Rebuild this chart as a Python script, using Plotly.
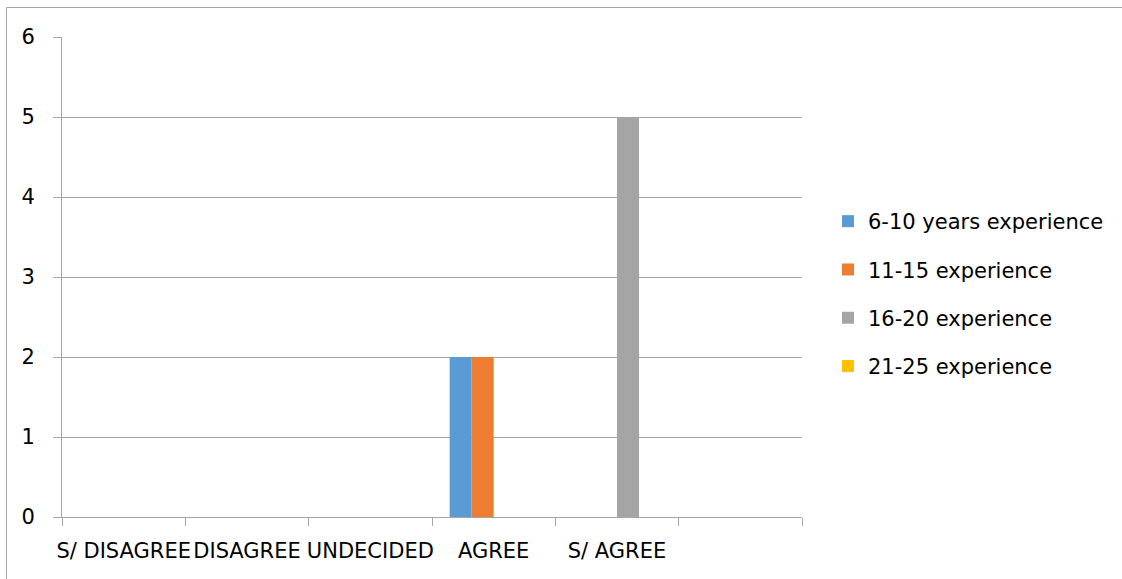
import plotly.graph_objects as go

# Response categories (last slot is an unlabelled spare category)
categories = ["S/ DISAGREE", "DISAGREE", "UNDECIDED", "AGREE", "S/ AGREE", " "]

series_names = [
    "6-10 years experience",
    "11-15 experience",
    "16-20 experience",
    "21-25 experience",
]
exp_6_10 = [0, 0, 0, 2, 0, 0]
exp_11_15 = [0, 0, 0, 2, 0, 0]
exp_16_20 = [0, 0, 0, 0, 5, 0]
exp_21_25 = [0, 0, 0, 0, 0, 0]

series_values = [exp_6_10, exp_11_15, exp_16_20, exp_21_25]
colors = ["#5B9BD5", "#ED7D31", "#A5A5A5", "#FFC000"]

FONT = "DejaVu Sans"
FS = 21
TEXT = "#000000"
GRID = "#A6A6A6"

fig = go.Figure()
for i, (name, vals, col) in enumerate(zip(series_names, series_values, colors)):
    fig.add_trace(go.Bar(
        x=categories, y=vals, name=name,
        marker=dict(color=col, line=dict(width=0)),
        legendgroup=f"g{i}",
    ))

W, H = 1122, 579
L, R, T, B = 62, 320, 37, 62
pw, ph = W - L - R, H - T - B

def px_x(p):
    return (p - L) / pw

def px_y(p):
    return (H - B - p) / ph

fig.update_layout(
    width=W, height=H,
    margin=dict(l=L, r=R, t=T, b=B, autoexpand=False),
    paper_bgcolor="white", plot_bgcolor="white",
    barmode="group", bargap=0.286, bargroupgap=0,
    font=dict(family=FONT, size=FS, color=TEXT),
    showlegend=True,
    legend=dict(
        x=px_x(828), y=px_y(201), xanchor="left", yanchor="top",
        font=dict(family=FONT, size=FS, color=TEXT),
        tracegroupgap=18, itemwidth=30, bgcolor="rgba(0,0,0,0)",
    ),
    xaxis=dict(
        type="category", categoryorder="array", categoryarray=categories,
        showline=True, linecolor=GRID, linewidth=1,
        ticks="outside", tickson="boundaries", ticklen=8, tickcolor=GRID,
        showgrid=False, zeroline=False, tickangle=0, automargin=False,
        tickfont=dict(family=FONT, size=FS, color=TEXT),
        ticklabelstandoff=15,
        fixedrange=True,
    ),
    yaxis=dict(
        range=[0, 6], dtick=1, tick0=0,
        showline=True, linecolor=GRID, linewidth=1,
        ticks="outside", ticklen=8, tickcolor=GRID,
        showgrid=True, gridcolor=GRID, gridwidth=1,
        zeroline=False, automargin=False,
        tickfont=dict(family=FONT, size=FS, color=TEXT),
        ticklabelstandoff=14,
        fixedrange=True,
    ),
    shapes=[
        # chart frame
        dict(type="rect", xref="paper", yref="paper",
             x0=px_x(6.5), x1=px_x(1130), y0=px_y(590), y1=px_y(7.5),
             line=dict(color="#A6A6A6", width=1), fillcolor="rgba(0,0,0,0)",
             layer="below"),
    ],
)

fig.write_html("out.html")
